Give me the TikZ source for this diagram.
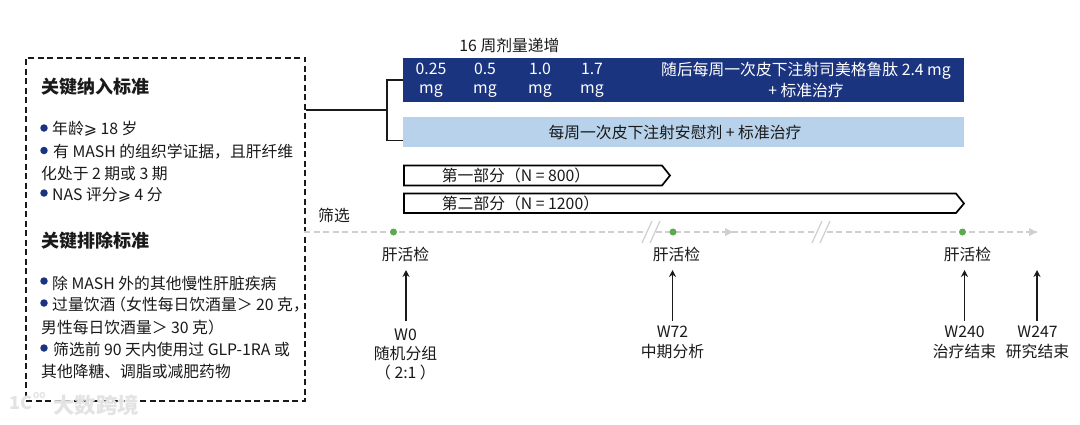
\documentclass[tikz,border=0pt]{standalone}
\usepackage{fontspec}
\setmainfont{Noto Sans CJK SC}
\newfontfamily\symfont{DejaVu Sans}
\usetikzlibrary{arrows.meta}
\definecolor{navy}{HTML}{1B3480}
\definecolor{pale}{HTML}{B7D2EA}
\definecolor{ink}{HTML}{1A1A1A}
\definecolor{dot}{HTML}{5BAA50}
\definecolor{tl}{HTML}{CFCFCF}
\definecolor{wm}{HTML}{E3E3E3}
\newcommand{\fs}[1]{\fontsize{#1}{#1}\selectfont}
\newcommand{\slge}{{\symfont ⩾}}
\tikzset{
 x=1pt,y=-1pt,
 txt/.style={inner sep=0pt,text=ink,font=\fs{15.8}},
 ltxt/.style={txt,anchor=west},
 ctxt/.style={txt,align=center,anchor=center},
 head/.style={ltxt,font=\fs{18}\bfseries},
 bul/.style={circle,fill=navy,inner sep=0pt,minimum size=7.5pt},
 conn/.style={draw=ink,line width=1.8pt},
 parrow/.style={draw=black,line width=1.7pt,fill=white,line join=miter},
 up/.style={draw=ink,line width=1.6pt,-{Stealth[length=7pt,width=7pt]}},
 tline/.style={draw=tl,line width=1.2pt,dash pattern=on 6pt off 3.5pt},
 tick/.style={draw=tl,line width=1.2pt},
 gdot/.style={circle,fill=dot,inner sep=0pt,minimum size=7pt},
 tip/.style={fill=tl,draw=none},
}
\begin{document}
\begin{tikzpicture}
\useasboundingbox[fill=white] (0,0) rectangle (1080,424);
% left box
\node[draw=ink,line width=2pt,dash pattern=on 6pt off 3.5pt,minimum width=279pt,minimum height=343pt,anchor=north west,inner sep=0pt] (box) at (25,56.5) {};
\node[head] (h1) at (41,87) {关键纳入标准};
\node[bul] at (44,128) {};
\node[ltxt] at (52,129) {年龄\slge\ 18 岁};
\node[bul] at (44,150.5) {};
\node[ltxt] at (53,152) {有 MASH 的组织学证据，且肝纤维};
\node[ltxt] at (41,173.5) {化处于 2 期或 3 期};
\node[bul] at (44,193) {};
\node[ltxt] at (52,195) {NAS 评分\slge\ 4 分};
\node[head] (h2) at (41,241) {关键排除标准};
\node[bul] at (44,281) {};
\node[ltxt] at (52,283) {除 MASH 外的其他慢性肝脏疾病};
\node[bul] at (44,303) {};
\node[ltxt] at (52,305) {过量饮酒\hspace{-5pt}（女性每日饮酒量＞ 20 克，};
\node[ltxt] at (41,327) {男性每日饮酒量＞ 30 克）};
\node[bul] at (44,348) {};
\node[ltxt] at (53,349) {筛选前 90 天内使用过 GLP-1RA 或};
\node[ltxt] at (41,371) {其他降糖、调脂或减肥药物};
% bars
\node[ctxt,anchor=center] (t16) at (509.5,46) {16 周剂量递增};
\node[fill=navy,minimum width=561pt,minimum height=44pt,anchor=north west,inner sep=0pt] (bar1) at (403,58) {};
\node[fill=pale,minimum width=561pt,minimum height=30.5pt,anchor=north west,inner sep=0pt] (bar2) at (403,116.5) {};
\tikzset{w/.style={ctxt,text=white,align=center}}
\node[w] at (431,80) {0.25\\[3.5pt]mg};
\node[w] at (485,80) {0.5\\[3.5pt]mg};
\node[w] at (540,80) {1.0\\[3.5pt]mg};
\node[w] at (592,80) {1.7\\[3.5pt]mg};
\node[w] at (806,80) {随后每周一次皮下注射司美格鲁肽 2.4 mg\\[3.5pt]+ 标准治疗};
\node[ctxt] at (675,132) {每周一次皮下注射安慰剂 + 标准治疗};
% connector
\coordinate (fork) at (387,110);
\draw[conn] (box.east |- fork) -- (fork);
\draw[conn] (bar1.west |- 0,80) -| (fork) |- (bar2.west |- 0,140.5);
% part arrows
\draw[parrow] (404,165.5) -- (662,165.5) -- (670,175.5) -- (662,185.5) -- (404,185.5) -- cycle;
\draw[parrow] (404,193.5) -- (956,193.5) -- (964,203.5) -- (956,213) -- (404,213) -- cycle;
\node[ctxt] at (516,175.5) {第一部分（N = 800）};
\node[ctxt] at (520.5,203) {第二部分（N = 1200）};
% timeline
\node[ctxt] at (334,215) {筛选};
\coordinate (ts) at (304,232);
\coordinate (te) at (1037,232);
\draw[tline] (ts) -- (te);
\foreach \x in {733,1037}{\fill[tip] (\x,232) -- (\x-8,228) -- (\x-8,236) -- cycle;}
\foreach \x in {650,820}{
 \fill[white] (\x-6,225) rectangle (\x+6,239);
 \draw[tick] (\x-8,243) -- (\x+2,221);
 \draw[tick] (\x,243) -- (\x+10,221);
}
\node[gdot] (d0) at (393.5,232) {};
\node[gdot] (d1) at (673,232) {};
\node[gdot] (d2) at (962.5,232) {};
\node[ctxt] (b0) at (405.5,254) {肝活检};
\node[ctxt] (b1) at (676.5,254) {肝活检};
\node[ctxt] (b2) at (967.5,254) {肝活检};
% milestones
\node[ctxt] (w0) at (405.5,354.5) {W0\\[3.5pt]随机分组\\[3.5pt]（ 2:1 ）};
\node[ctxt,anchor=north] (w1) at (672.5,326) {W72\\[3.5pt]中期分析};
\node[ctxt,anchor=north] (w2) at (964.5,326) {W240\\[3.5pt]治疗结束};
\node[ctxt,anchor=north] (w3) at (1037.5,326) {W247\\[3.5pt]研究结束};
\draw[up] (406,321) -- (406,270);
\draw[up] (672.5,321) -- (672.5,270);
\draw[up] (964.5,321) -- (964.5,270);
\draw[up] (1037,321) -- (1037,270);
% watermark
\node[inner sep=0pt,text=wm,font=\fs{21.5}\bfseries,anchor=west] at (53,405) {大数跨境};
\node[inner sep=0pt,text=wm,font=\fs{18}\bfseries,anchor=west] at (9,403) {1C};
\node[inner sep=0pt,text=wm,font=\fs{8}\bfseries,anchor=west] at (33,396) {OO};
\end{tikzpicture}
\end{document}
